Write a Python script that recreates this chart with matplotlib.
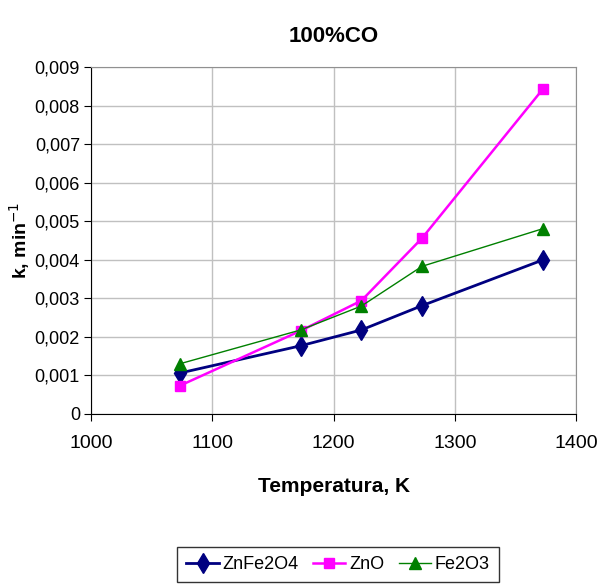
import matplotlib
matplotlib.use("Agg")
import matplotlib.pyplot as plt
from matplotlib.ticker import FuncFormatter

plt.rcParams['font.family'] = ['Liberation Sans Narrow', 'Liberation Sans', 'DejaVu Sans']

# datos
temp = [1073, 1173, 1223, 1273, 1373]
znfe2o4 = [0.00106, 0.00177, 0.00218, 0.00281, 0.00400]
zno = [0.00073, 0.00216, 0.00294, 0.00456, 0.00844]
fe2o3 = [0.00130, 0.00218, 0.00280, 0.00383, 0.00481]

fig = plt.figure(figsize=(5.97, 5.88), dpi=100)
ax = fig.add_axes([91/597, 1-414/588, 485/597, 347/588])

ax.plot(temp, znfe2o4, color='#000080', lw=2, marker='d', ms=10, label='ZnFe2O4')
ax.plot(temp, zno, color='#ff00ff', lw=1.8, marker='s', ms=7, label='ZnO')
ax.plot(temp, fe2o3, color='#008000', lw=1, marker='^', ms=8, label='Fe2O3')

ax.set_xlim(1000, 1400)
ax.set_ylim(0, 0.009)
ax.set_xticks(range(1000, 1401, 100))
ax.set_yticks([i/1000 for i in range(10)])
ax.yaxis.set_major_formatter(FuncFormatter(lambda v, p: '0' if v == 0 else ('%.3f' % v).replace('.', ',')))
ax.grid(True, color='#c0c0c0', lw=1)
ax.set_axisbelow(True)
ax.tick_params(labelsize=14, direction='out', length=5, pad=4)
ax.tick_params(axis='y', labelsize=13, pad=3)
ax.tick_params(axis='x', pad=10)
for s in ['top', 'right']:
    ax.spines[s].set_color('#909090')
for s in ['left', 'bottom']:
    ax.spines[s].set_color('black')

ax.set_title('100%CO', fontsize=16, fontweight='bold', pad=18)
ax.set_xlabel('Temperatura, K', fontsize=15, fontweight='bold', labelpad=18)
ax.set_ylabel(r'k, min$^{-1}$', fontsize=14, fontweight='bold', labelpad=2)

leg = fig.legend(loc='lower center', bbox_to_anchor=(338/597, -0.005), ncol=3, fontsize=13,
                 frameon=True, fancybox=False, edgecolor='black', handlelength=1.8,
                 columnspacing=0.8, handletextpad=0.2, borderpad=0.5)
leg.get_frame().set_linewidth(1)

fig.savefig('out.png', dpi=100)
